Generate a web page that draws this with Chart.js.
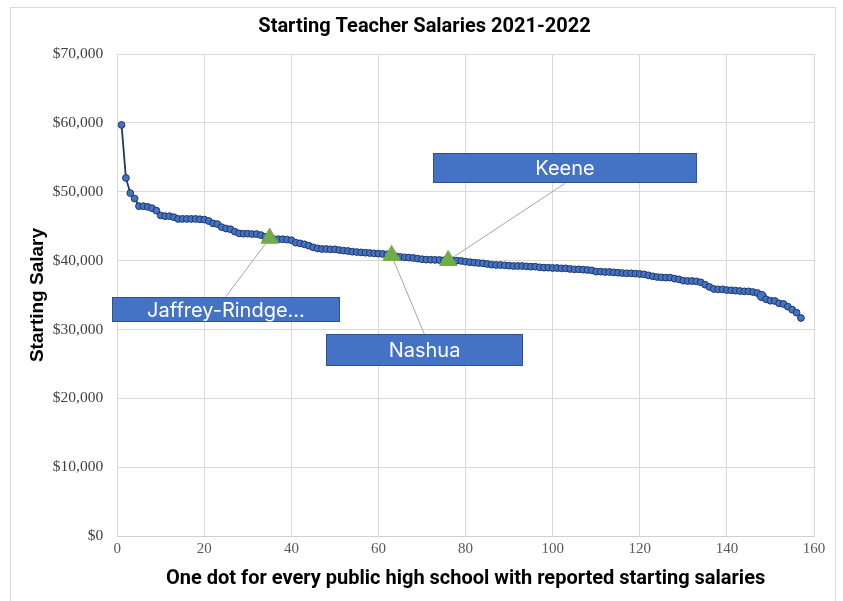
<!DOCTYPE html>
<html>
<head>
<meta charset="utf-8">
<script src="https://cdn.jsdelivr.net/npm/chart.js@4.4.0/dist/chart.umd.min.js"></script>
<style>
  html, body { margin: 0; padding: 0; background: #ffffff; }
  #frame { position: absolute; left: 10px; top: 7px; width: 826px; height: 640px; border: 1px solid #d9d9d9; box-sizing: border-box; }
  #c { position: absolute; left: 0; top: 0; }
</style>
</head>
<body>
<div id="frame"></div>
<canvas id="c" width="843" height="601"></canvas>
<script>
// ---------- DATA ----------
const salaries = [
  59700, 52000, 49800, 49000, 47900, 47900, 47800, 47600, 47250, 46550,
  46450, 46450, 46300, 46050, 46050, 46050, 46050, 46050, 46000, 45950,
  45750, 45400, 45300, 44850, 44650, 44550, 44200, 43950, 43900, 43900,
  43850, 43850, 43700, 43450, 43250, 43100, 43100, 43100, 43050, 42950,
  42600, 42500, 42360, 42160, 41920, 41770, 41680, 41680, 41630, 41630,
  41530, 41440, 41390, 41290, 41240, 41190, 41140, 41100, 41050, 41000,
  40960, 40910, 40750, 40620, 40530, 40470, 40430, 40380, 40280, 40190,
  40140, 40120, 40100, 40080, 40040, 40000, 40000, 39990, 39950, 39840,
  39770, 39700, 39650, 39600, 39500, 39400, 39360, 39360, 39310, 39260,
  39210, 39210, 39210, 39160, 39110, 39110, 39020, 38970, 38970, 38920,
  38920, 38870, 38870, 38780, 38730, 38730, 38680, 38630, 38580, 38390,
  38390, 38340, 38340, 38290, 38240, 38190, 38150, 38150, 38100, 38050,
  38000, 37850, 37710, 37610, 37560, 37520, 37520, 37370, 37270, 37080,
  37030, 37030, 36980, 36840, 36500, 36160, 35870, 35820, 35820, 35720,
  35680, 35630, 35580, 35530, 35530, 35430, 35290, 34850, 34370, 34170,
  34130, 33790, 33690, 33300, 32870, 32430, 31660
];
const highlightNames = ['Jaffrey-Rindge…', 'Nashua', 'Keene'];
const highlightRank  = [35, 63, 76];
const emphasisRank   = [148];
const xTickValues = [0, 20, 40, 60, 80, 100, 120, 140, 160];
const yTickValues = [0, 10000, 20000, 30000, 40000, 50000, 60000, 70000];

// ---------- LAYOUT / STYLE (kept separate from data) ----------
// callout boxes in data coordinates: [xLeft, yTop, xRight, yBottom]
const calloutBoxes = {
  'Jaffrey-Rindge…': { box: [-1.3, 34750, 51.2, 31120], edge: 'top' },
  'Nashua':          { box: [47.9, 29300, 93.2, 24690], edge: 'top' },
  'Keene':           { box: [72.6, 55580, 133.1, 51220], edge: 'bottom' }
};

const points = salaries.map((v, i) => ({ x: i + 1, y: v }));
const highlightPoints = highlightRank.map(r => ({ x: r, y: salaries[r - 1] }));

const calloutPlugin = {
  id: 'callouts',
  beforeDatasetsDraw(chart) {
    const { ctx, scales: { x, y } } = chart;
    ctx.save();
    ctx.strokeStyle = '#a6a6a6';
    ctx.lineWidth = 1;
    highlightNames.forEach((name, i) => {
      const cfg = calloutBoxes[name];
      const px = x.getPixelForValue(highlightRank[i]);
      const py = y.getPixelForValue(salaries[highlightRank[i] - 1]);
      const [bx1, by1, bx2, by2] = cfg.box;
      const ax = (x.getPixelForValue(bx1) + x.getPixelForValue(bx2)) / 2;
      const ay = cfg.edge === 'top' ? y.getPixelForValue(by1) : y.getPixelForValue(by2);
      ctx.beginPath();
      ctx.moveTo(px, py);
      ctx.lineTo(ax, ay);
      ctx.stroke();
    });
    ctx.restore();
  },
  afterDatasetsDraw(chart) {
    const { ctx, scales: { x, y } } = chart;
    ctx.save();
    highlightNames.forEach((name) => {
      const cfg = calloutBoxes[name];
      const [bx1, by1, bx2, by2] = cfg.box;
      const l = Math.round(x.getPixelForValue(bx1)), r = Math.round(x.getPixelForValue(bx2));
      const t = Math.round(y.getPixelForValue(by1)), b = Math.round(y.getPixelForValue(by2));
      ctx.fillStyle = '#4472C4';
      ctx.fillRect(l, t, r - l, b - t);
      ctx.strokeStyle = '#2F528F';
      ctx.lineWidth = 1;
      ctx.strokeRect(l + 0.5, t + 0.5, r - l - 1, b - t - 1);
      ctx.fillStyle = '#ffffff';
      ctx.font = '20px Inter, "Open Sans", sans-serif';
      ctx.textAlign = 'center';
      ctx.textBaseline = 'middle';
      ctx.fillText(name, (l + r) / 2, (t + b) / 2 + 1);
    });
    ctx.restore();
  }
};

new Chart(document.getElementById('c'), {
  type: 'line',
  data: {
    datasets: [
      {
        label: 'Highlighted schools',
        data: highlightPoints,
        showLine: false,
        pointStyle: 'triangle',
        pointRadius: 10,
        pointBackgroundColor: '#70AD47',
        pointBorderColor: '#70AD47',
        pointBorderWidth: 1,
        order: 0,
        clip: false
      },
      {
        label: 'Starting salary',
        data: points,
        borderColor: '#1F3864',
        borderWidth: 1.8,
        tension: 0,
        pointStyle: 'circle',
        pointRadius: salaries.map((v, i) => emphasisRank.includes(i + 1) ? 4.6 : 3.4),
        pointBackgroundColor: '#4472C4',
        pointBorderColor: '#203864',
        pointBorderWidth: 1,
        order: 1,
        clip: false
      }
    ]
  },
  options: {
    responsive: false,
    animation: false,
    devicePixelRatio: 1,
    layout: { padding: { left: 35, right: 29, top: 8, bottom: 0 } },
    plugins: {
      legend: { display: false },
      tooltip: { enabled: false },
      title: {
        display: true,
        text: 'Starting Teacher Salaries 2021-2022',
        color: '#000000',
        font: { family: 'Roboto', size: 20, weight: 'bold' },
        padding: { top: 7, bottom: 15 }
      }
    },
    scales: {
      x: {
        type: 'linear',
        min: 0,
        max: 160,
        afterBuildTicks: s => { s.ticks = xTickValues.map(v => ({ value: v })); },
        afterFit: s => { s.height = 65; },
        ticks: {
          color: '#595959',
          font: { family: 'Liberation Serif', size: 15 },
          padding: 4,
          maxRotation: 0
        },
        grid: { color: '#d9d9d9', drawTicks: false },
        border: { color: '#d0d0d0' },
        title: {
          display: true,
          text: 'One dot for every public high school with reported starting salaries',
          color: '#000000',
          font: { family: 'Roboto', size: 20, weight: 'bold' },
          padding: { top: 0, bottom: 10 }
        }
      },
      y: {
        min: 0,
        max: 70000,
        afterBuildTicks: s => { s.ticks = yTickValues.map(v => ({ value: v })); },
        afterFit: s => { s.width = 82.2; },
        ticks: {
          color: '#404040',
          font: { family: 'Liberation Serif', size: 15.5 },
          padding: 14,
          callback: v => '$' + Number(v).toLocaleString('en-US')
        },
        grid: { color: '#d9d9d9', drawTicks: false },
        border: { display: false },
        title: {
          display: true,
          text: 'Starting Salary',
          color: '#000000',
          font: { family: 'Liberation Sans', size: 19, weight: 'bold' },
          padding: { top: -8.8, bottom: 0 }
        }
      }
    }
  },
  plugins: [calloutPlugin]
});
</script>
</body>
</html>
